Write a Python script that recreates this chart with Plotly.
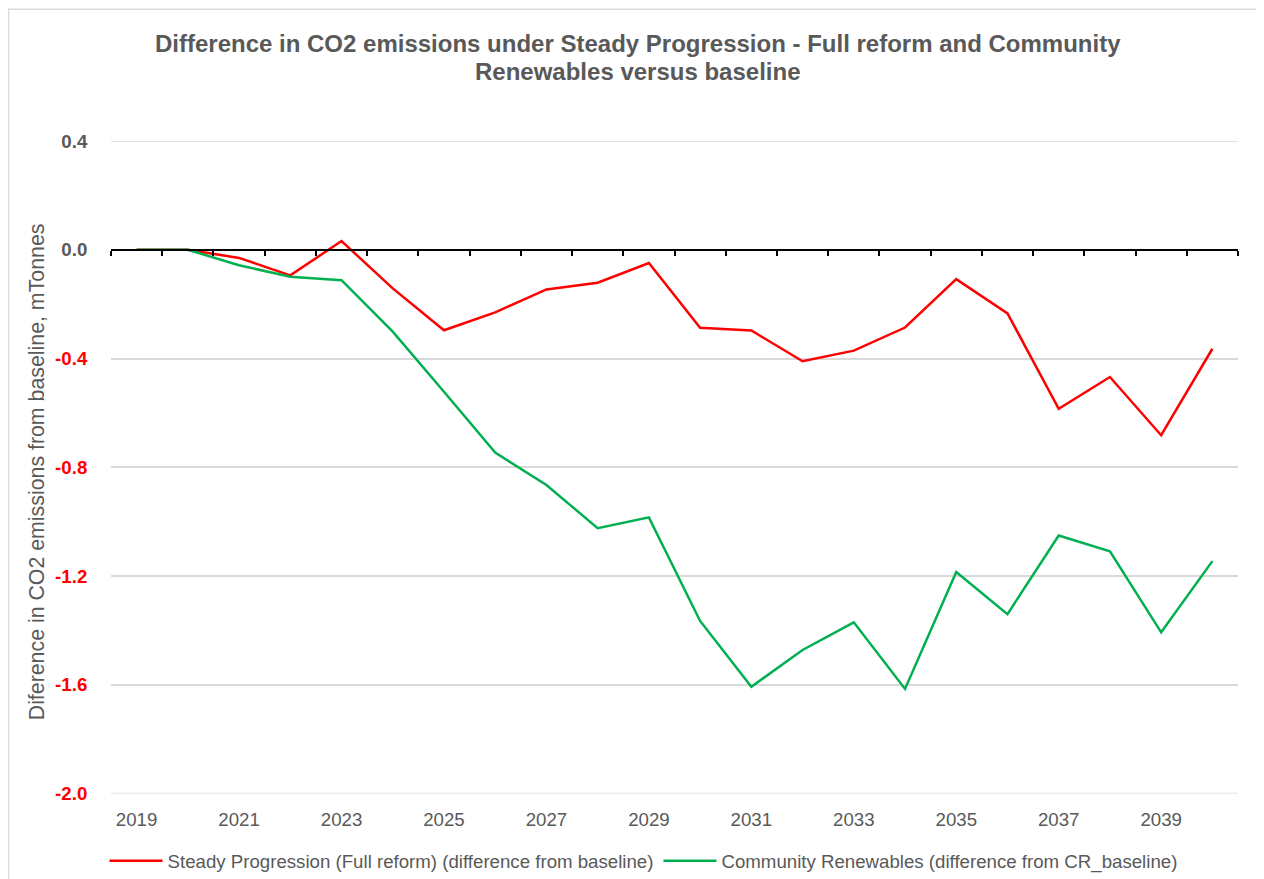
import plotly.graph_objects as go

years = list(range(2019, 2041))
steady_progression = [0.0, 0.0, -0.03, -0.094, 0.032, -0.142, -0.296, -0.230, -0.146, -0.121,
                      -0.049, -0.287, -0.297, -0.410, -0.371, -0.286, -0.108, -0.234, -0.585,
                      -0.468, -0.682, -0.364]
community_renewables = [0.0, 0.0, -0.057, -0.099, -0.112, -0.301, -0.522, -0.746, -0.865, -1.024,
                        -0.984, -1.365, -1.607, -1.472, -1.370, -1.615, -1.185, -1.340, -1.051,
                        -1.109, -1.407, -1.145]
x_tick_years = list(range(2019, 2040, 2))
y_tick_vals = [0.4, 0.0, -0.4, -0.8, -1.2, -1.6, -2.0]

names = ["Steady Progression (Full reform) (difference from baseline)",
         "Community Renewables (difference from CR_baseline)"]
colors = ["#FF0000", "#00B050"]
title_lines = ["Difference in CO2 emissions under Steady Progression - Full reform and Community",
               "Renewables versus baseline"]
y_title = "Diference in CO2 emissions from baseline, mTonnes"

FONT = "Arial, Liberation Sans, sans-serif"
GRAY = "#595959"
GRID = "#D9D9D9"
FS = 18.67

# figure sits 8px in from the page corner (body margin)
W, H = 1256, 871
ML, MR, MT, MB = 103, 26, 133, 82
PW, PH = W - ML - MR, H - MT - MB


def px_x(fx):
    return (fx - ML) / PW


def px_y(fy):
    return (H - MB - fy) / PH


fig = go.Figure()
for name, vals, col in zip(names, [steady_progression, community_renewables], colors):
    fig.add_trace(go.Scatter(x=years, y=vals, mode="lines", name=name,
                             line=dict(color=col, width=2.5)))
# carrier for the zero-line axis with boundary ticks
fig.add_trace(go.Scatter(x=years, y=[None] * len(years), xaxis="x2", mode="lines",
                         showlegend=False, hoverinfo="skip"))


def ylab(v):
    s = f"{v:.1f}"
    if v < 0:
        return f"<b><span style='color:#FF0000'>{s}</span></b>"
    return f"<b>{s}</b>"


y_range = [min(y_tick_vals), max(y_tick_vals)]

fig.update_layout(
    width=W, height=H,
    margin=dict(l=ML, r=MR, t=MT, b=MB, pad=0),
    paper_bgcolor="white", plot_bgcolor="white",
    font=dict(family=FONT, color=GRAY, size=FS),
    xaxis=dict(range=[2018.5, 2040.5], tickvals=x_tick_years, ticktext=[str(y) for y in x_tick_years],
               showgrid=False, zeroline=False, showline=False,
               ticks="outside", ticklen=9, tickcolor="rgba(0,0,0,0)",
               tickfont=dict(family=FONT, size=FS, color=GRAY)),
    xaxis2=dict(range=[2018.5, 2040.5], overlaying="x", anchor="free",
                position=(0 - y_range[0]) / (y_range[1] - y_range[0]),
                tick0=2018.5, dtick=1, ticks="outside", ticklen=5, tickwidth=2, tickcolor="black",
                showticklabels=False, showgrid=False, zeroline=False,
                showline=True, linecolor="black", linewidth=2),
    yaxis=dict(range=y_range, tickvals=y_tick_vals, ticktext=[ylab(v) for v in y_tick_vals],
               showgrid=True, gridcolor=GRID, gridwidth=1.5, zeroline=False, showline=False,
               ticks="outside", ticklen=19, tickcolor="rgba(0,0,0,0)",
               tickfont=dict(family=FONT, size=FS, color=GRAY)),
    legend=dict(orientation="h", xref="container", yref="container",
                x=635.5 / W, xanchor="center", y=1 - 853 / H, yanchor="middle",
                font=dict(family=FONT, size=FS, color=GRAY),
                itemwidth=53,
                bgcolor="rgba(0,0,0,0)"),
    showlegend=True,
)

# gridlines at the two range ends (plotly clips those at the plot edges)
for v in (y_range[0], y_range[1]):
    fig.add_shape(type="line", xref="paper", yref="y", x0=0, x1=1, y0=v, y1=v,
                  line=dict(color=GRID, width=1.5), layer="below")

for line, cy in zip(title_lines, [35, 63]):
    fig.add_annotation(text=f"<b>{line}</b>", xref="paper", yref="paper",
                       x=px_x(630), y=px_y(cy), showarrow=False,
                       xanchor="center", yanchor="middle",
                       font=dict(family=FONT, size=24, color=GRAY))

fig.add_annotation(text=y_title, xref="paper", yref="paper", x=px_x(29), y=px_y(466),
                   textangle=-90, showarrow=False, xanchor="center", yanchor="middle",
                   font=dict(family=FONT, size=21.33, color=GRAY))

# outer chart-area border
fig.add_shape(type="rect", xref="paper", yref="paper",
              x0=px_x(0.5), x1=px_x(W + 20), y0=px_y(H + 20), y1=px_y(0.5),
              line=dict(color=GRID, width=1.5), fillcolor="rgba(0,0,0,0)", layer="below")

fig.write_html("out.html")
